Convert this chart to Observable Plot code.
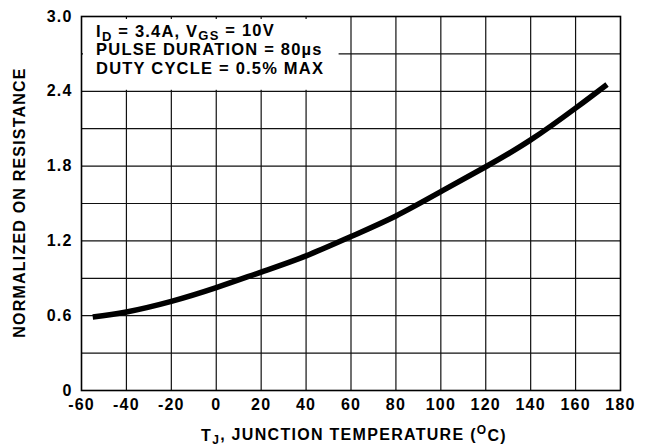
<!DOCTYPE html>
<html>
<head>
<meta charset="utf-8">
<script src="https://cdn.jsdelivr.net/npm/d3@7"></script>
<script src="https://cdn.jsdelivr.net/npm/@observablehq/plot@0.6"></script>
<style>
  html, body { margin: 0; padding: 0; background: #fff; }
  #chart svg text {
    font-family: 'Liberation Sans', Arial, Helvetica, sans-serif;
    font-size: 16px;
    font-weight: bold;
    letter-spacing: 1.2px;
    fill: #000;
  }
  #chart svg g.ann text { font-size: 16.5px; letter-spacing: 1.2px; }
  #chart svg g.y-title text { letter-spacing: 1.2px; }
  #chart svg g.x-title text { letter-spacing: 1.3px; }
</style>
</head>
<body>
<div id="chart"></div>
<script>
// ---- data ----
const temperature = [-55, -40, -20, 0, 20, 40, 60, 80, 100, 120, 140, 160, 174];
const normalizedRon = [0.59, 0.63, 0.715, 0.825, 0.95, 1.08, 1.235, 1.40, 1.595, 1.795, 2.01, 2.265, 2.455];
const xTicks = [-60, -40, -20, 0, 20, 40, 60, 80, 100, 120, 140, 160, 180];
const yLabelTicks = [0, 0.6, 1.2, 1.8, 2.4, 3.0];
const yGridLines = [0.3, 0.6, 0.9, 1.2, 1.5, 1.8, 2.1, 2.4, 2.7];
const annotationLines = ["ID = 3.4A, VGS = 10V", "PULSE DURATION = 80\u00B5s", "DUTY CYCLE = 0.5% MAX"];
const xLabel = "TJ, JUNCTION TEMPERATURE (OC)";
const yLabel = "NORMALIZED ON RESISTANCE";

const curve = temperature.map((t, i) => ({t, r: normalizedRon[i]}));

const chart = Plot.plot({
  width: 654,
  height: 447,
  marginLeft: 81,
  marginRight: 34,
  marginTop: 16,
  marginBottom: 57,
  style: {background: "#fff", color: "#000"},
  x: {domain: [-60, 180]},
  y: {domain: [0, 3]},
  marks: [
    Plot.ruleX(xTicks.slice(1, -1), {stroke: "#111", strokeWidth: 1.2}),
    Plot.ruleY(yGridLines, {stroke: "#111", strokeWidth: 1.2}),
    // white panel behind the test-condition notes (lets the grid stubs show at the frame)
    Plot.rect([{}], {x1: () => -60, x2: () => 54.7, y1: () => 2.4, y2: () => 3.0,
      fill: "white", insetLeft: 2, insetTop: 3, insetBottom: 1}),
    Plot.frame({stroke: "#000", strokeWidth: 1.6}),
    Plot.line(curve, {x: "t", y: "r", curve: "natural", stroke: "#000", strokeWidth: 5.5, strokeLinecap: "butt"}),
    Plot.text([annotationLines[0]], {x: () => -53.5, y: () => 2.832, text: d => d, textAnchor: "start", lineAnchor: "bottom", className: "ann"}),
    Plot.text([annotationLines[1]], {x: () => -53.5, y: () => 2.689, text: d => d, textAnchor: "start", lineAnchor: "bottom", className: "ann"}),
    Plot.text([annotationLines[2]], {x: () => -53.5, y: () => 2.542, text: d => d, textAnchor: "start", lineAnchor: "bottom", className: "ann"}),
    Plot.axisX(xTicks, {tickSize: 0, tickPadding: 8, tickFormat: d => String(d), label: null}),
    Plot.axisY(yLabelTicks, {tickSize: 0, tickPadding: 9, tickFormat: d => d === 0 ? "0" : d.toFixed(1), label: null}),
    Plot.text([xLabel], {frameAnchor: "bottom", textAnchor: "middle", lineAnchor: "bottom", dx: 3, dy: 50, text: d => d, className: "x-title"}),
    Plot.text([yLabel], {frameAnchor: "left", textAnchor: "middle", lineAnchor: "bottom", rotate: -90, dx: -57, dy: -1, text: d => d, className: "y-title"})
  ]
});

// rich text: subscripts / superscripts
function richText(textEl, parts, small) {
  const t = d3.select(textEl);
  t.text(null);
  for (const [s, kind] of parts) {
    const span = t.append("tspan").text(s);
    if (kind === "sub") span.attr("dy", "0.25em").attr("font-size", small);
    if (kind === "sup") span.attr("dy", "-0.45em").attr("font-size", small);
    if (kind === "back-sub") span.attr("dy", "-0.25em");
    if (kind === "back-sup") span.attr("dy", "0.45em");
  }
}
const svg = d3.select(chart);
const ann = svg.selectAll("g.ann text").nodes()[0];
if (ann) richText(ann, [["I", null], ["D", "sub"], [" = 3.4A, V", "back-sub"], ["GS", "sub"], [" = 10V", "back-sub"]], "13px");
const xt = svg.select("g.x-title text").node();
if (xt) richText(xt, [["T", null], ["J", "sub"], [", JUNCTION TEMPERATURE (", "back-sub"], ["O", "sup"], ["C)", "back-sup"]], "12px");

document.getElementById("chart").appendChild(chart);
</script>
</body>
</html>
